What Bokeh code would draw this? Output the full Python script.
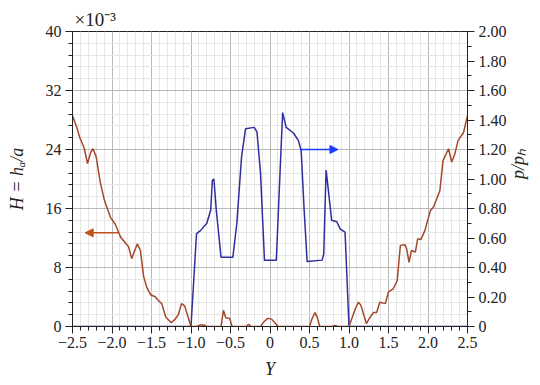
import numpy as np
from bokeh.plotting import figure
from bokeh.models import (Range1d, LinearAxis, FixedTicker, CustomJSTickFormatter,
                          Arrow, NormalHead)
from bokeh.embed import file_html
from bokeh.resources import INLINE

# ---------------- data ----------------
# film thickness H (units of 1e-3), left axis
h_y = [-2.50, -2.44, -2.41, -2.35, -2.31, -2.27, -2.24, -2.20, -2.15, -2.10, -2.08, -2.02,
       -1.96, -1.89, -1.79, -1.75, -1.72, -1.68, -1.64, -1.60, -1.56, -1.51, -1.45, -1.41,
       -1.37, -1.32, -1.25, -1.20, -1.16, -1.12, -1.08, -1.00,
       -0.93, -0.88, -0.84, -0.80, -0.62, -0.59, -0.56, -0.51, -0.48, -0.30, -0.27, -0.24,
       -0.12, -0.08, -0.03, 0.02, 0.07, 0.10, 0.50, 0.53, 0.57, 0.60, 0.63, 0.78, 0.82,
       0.86, 1.00,
       1.08, 1.12, 1.15, 1.22, 1.27, 1.31, 1.35, 1.39, 1.46, 1.50, 1.56, 1.61, 1.65, 1.71,
       1.73, 1.76, 1.79, 1.84, 1.87, 1.91, 1.96, 2.03, 2.07, 2.15, 2.19, 2.26, 2.30, 2.34,
       2.38, 2.45, 2.50]
h_val = [28.6, 26.8, 25.7, 24.1, 22.1, 23.6, 24.1, 23.0, 19.6, 17.3, 16.6, 14.8,
         13.9, 12.1, 10.8, 9.2, 10.1, 11.2, 10.3, 6.8, 5.3, 4.3, 4.0, 3.5,
         3.1, 1.3, 0.5, 1.0, 1.6, 3.1, 2.8, 0.0,
         0.0, 0.2, 0.2, 0.0, 0.0, 2.2, 1.2, 1.1, 0.0, 0.0, 0.3, 0.0,
         0.0, 0.6, 1.1, 1.0, 0.4, 0.0, 0.0, 1.0, 1.9, 1.2, 0.0, 0.0, 0.15,
         0.0, 0.0,
         2.4, 3.3, 2.9, 0.4, 1.3, 1.9, 1.9, 3.3, 3.1, 4.7, 5.1, 6.2, 11.0, 11.1,
         10.5, 8.7, 10.3, 10.1, 11.9, 11.8, 13.0, 15.7, 16.2, 18.4, 22.5, 24.1, 22.3, 23.4,
         25.2, 26.3, 28.6]

# pressure p/ph, right axis
p_y = [-2.50, -1.00, -0.93, -0.88, -0.80, -0.75, -0.73, -0.71, -0.68, -0.62, -0.47, -0.42,
       -0.36, -0.31, -0.20, -0.165, -0.12, -0.07, 0.08, 0.117, 0.16, 0.205, 0.30, 0.36,
       0.395, 0.43, 0.47, 0.66, 0.68, 0.71, 0.74, 0.78, 0.845, 0.89, 0.92, 0.95, 1.00, 2.50]
p_val = [0.0, 0.0, 0.63, 0.65, 0.70, 0.79, 0.99, 1.00, 0.79, 0.47, 0.47, 0.70,
         1.15, 1.34, 1.35, 1.32, 1.04, 0.45, 0.45, 0.92, 1.45, 1.35, 1.31, 1.26,
         1.19, 0.81, 0.44, 0.45, 0.49, 1.06, 0.92, 0.72, 0.71, 0.66, 0.65, 0.64, 0.0, 0.0]

x_ticks = [-2.5, -2.0, -1.5, -1.0, -0.5, 0.0, 0.5, 1.0, 1.5, 2.0, 2.5]
h_ticks = [0, 8, 16, 24, 32, 40]
p_ticks = [0.0, 0.2, 0.4, 0.6, 0.8, 1.0, 1.2, 1.4, 1.6, 1.8, 2.0]

x_label = "Y"
h_label = "H = h\u2090/a"
p_label = "p/p\u2095"
multiplier = "\u00d710\u207b\u00b3"

# ---------------- styling ----------------
FONT = "Liberation Serif"
BROWN = "#a4472a"
BLUE = "#2e2e9e"
ARROW_BLUE = "#1f3cff"
ARROW_BROWN = "#c0521c"
INK = "#222222"

p = figure(width=540, height=385, x_range=Range1d(-2.5, 2.5), y_range=Range1d(0, 40),
           output_backend="svg", toolbar_location=None,
           min_border_left=72, min_border_right=73, min_border_top=31, min_border_bottom=59)
p.extra_y_ranges = {"p": Range1d(0, 2)}
p.outline_line_color = INK
p.outline_line_width = 1
p.background_fill_color = "white"
p.border_fill_color = "white"

p.title.text = multiplier
p.title.align = "left"
p.title.text_font = FONT
p.title.text_font_size = "19px"
p.title.text_font_style = "normal"
p.title.text_color = INK
p.title.offset = 2
p.title.standoff = 3

x_minor = [round(-2.5 + 0.1 * i, 2) for i in range(51)]
h_minor = [round(1.6 * i, 2) for i in range(26)]
p_minor = [round(0.1 * i, 2) for i in range(21)]

xt = FixedTicker(ticks=x_ticks, minor_ticks=x_minor)
ht = FixedTicker(ticks=h_ticks, minor_ticks=h_minor)
pt = FixedTicker(ticks=p_ticks, minor_ticks=p_minor)

p.xaxis.ticker = xt
p.yaxis.ticker = ht
p.xgrid.ticker = xt
p.ygrid.ticker = ht

p.xaxis.formatter = CustomJSTickFormatter(
    code="return Math.abs(tick) < 1e-9 ? '0' : tick.toFixed(1).replace('-', '\u2212');")
p.yaxis.formatter = CustomJSTickFormatter(code="return tick.toFixed(0);")

ax_r = LinearAxis(y_range_name="p", ticker=pt,
                  formatter=CustomJSTickFormatter(
                      code="return Math.abs(tick) < 1e-9 ? '0' : tick.toFixed(2);"))
p.add_layout(ax_r, "right")

p.xaxis.axis_label = x_label
p.yaxis.axis_label = h_label
ax_r.axis_label = p_label

for ax in [p.xaxis[0], p.yaxis[0], ax_r]:
    ax.axis_line_color = INK
    ax.major_tick_line_color = INK
    ax.minor_tick_line_color = INK
    ax.major_tick_out = 7
    ax.major_tick_in = 0
    ax.minor_tick_out = 4
    ax.minor_tick_in = 0
    ax.major_label_text_font = FONT
    ax.major_label_text_font_size = "16px"
    ax.major_label_text_color = INK
    ax.major_label_standoff = 4
    ax.axis_label_text_font = FONT
    ax.axis_label_text_font_size = "18px"
    ax.axis_label_text_font_style = "italic"
    ax.axis_label_text_color = INK

p.yaxis.axis_label_standoff = 16
ax_r.axis_label_standoff = 8
ax_r.axis_label_orientation = np.pi / 2
p.xaxis.major_label_standoff = 3
p.xaxis.axis_label_standoff = 8

for g in [p.xgrid[0], p.ygrid[0]]:
    g.grid_line_color = "#8c8c8c"
    g.grid_line_dash = "1 1"
    g.grid_line_width = 1
    g.minor_grid_line_color = "#e6e6e6"
    g.minor_grid_line_width = 1

# curves
p.line(p_y, p_val, y_range_name="p", line_color=BLUE, line_width=1.5)
p.line(h_y, h_val, line_color=BROWN, line_width=1.5)

# arrows
p.add_layout(Arrow(end=NormalHead(size=8, fill_color=ARROW_BROWN, line_color=ARROW_BROWN),
                   x_start=-1.92, y_start=12.7, x_end=-2.34, y_end=12.7,
                   line_color=ARROW_BROWN, line_width=1.5))
p.add_layout(Arrow(end=NormalHead(size=8, fill_color=ARROW_BLUE, line_color=ARROW_BLUE),
                   x_start=0.38, y_start=1.2, x_end=0.86, y_end=1.2, y_range_name="p",
                   line_color=ARROW_BLUE, line_width=1.5))

open("out.html", "w").write(file_html(p, INLINE))
